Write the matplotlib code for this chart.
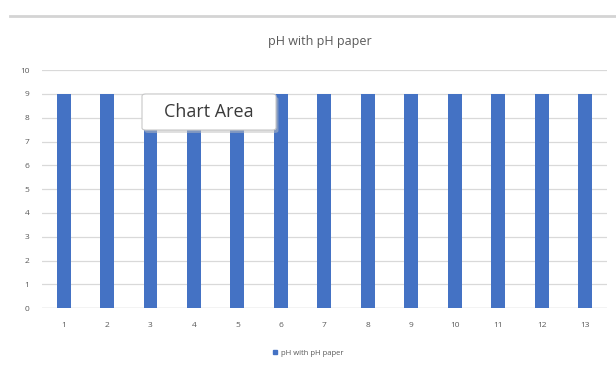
import matplotlib.pyplot as plt
from matplotlib.patches import FancyBboxPatch
from matplotlib.lines import Line2D

plt.rcParams['font.family'] = ['Open Sans', 'DejaVu Sans']

samples = [str(i) for i in range(1, 14)]
ph_values = [9, 9, 9, 9, 9, 9, 9, 9, 9, 9, 9, 9, 9]
series_name = "pH with pH paper"

bar_color = "#4472C4"
grid_color = "#d9d9d9"
text_color = "#595959"

fig = plt.figure(figsize=(6.16, 3.69), dpi=100)
ax = fig.add_axes([0.068, 0.165, 0.917, 0.645])

xs = range(1, len(samples) + 1)
ax.bar(xs, ph_values, width=0.32, color=bar_color, label=series_name, zorder=3)

ax.set_xlim(0.5, len(samples) + 0.5)
ax.set_ylim(0, 10)
ax.set_yticks(range(0, 11))
ax.set_xticks(list(xs))
ax.set_xticklabels(samples)
ax.grid(True, axis="y", color=grid_color, linewidth=0.9, zorder=0)
for s in ax.spines.values():
    s.set_visible(False)
ax.axhline(0, color=grid_color, linewidth=1.0, zorder=2)
ax.tick_params(axis="both", length=0, labelsize=6, colors=text_color)
ax.tick_params(axis="y", pad=9)
ax.tick_params(axis="x", pad=10)

fig.text(0.52, 0.888, series_name, ha="center", va="center", fontsize=9, color=text_color)

# grey rule across the top
fig.add_artist(Line2D([0.016, 1.0], [0.957, 0.957], transform=fig.transFigure,
                      color="#d4d4d4", linewidth=2))

# legend at the bottom
handle = plt.Rectangle((0, 0), 1, 1, color=bar_color)
fig.legend([handle], [series_name], loc="center", bbox_to_anchor=(0.5, 0.043),
           frameon=False, fontsize=5.5, labelcolor=text_color,
           handlelength=0.6, handleheight=0.6, handletextpad=0.5)

# hover tooltip
x0, y0, w, h = 142 / 616, 1 - 130 / 369, 134 / 616, 36 / 369
fig.add_artist(FancyBboxPatch((x0 + 0.004, y0 - 0.008), w, h, transform=fig.transFigure,
                              boxstyle="round,pad=0,rounding_size=0.006",
                              facecolor="#bfbfbf", edgecolor="none", alpha=0.5, zorder=9))
fig.add_artist(FancyBboxPatch((x0, y0), w, h, transform=fig.transFigure,
                              boxstyle="round,pad=0,rounding_size=0.006",
                              facecolor="white", edgecolor="#c8c8c8", linewidth=0.8, zorder=10))
fig.text(x0 + w / 2, y0 + h / 2, "Chart Area", ha="center", va="center",
         fontsize=13, color="#3a3a3a", zorder=11)

fig.savefig("out.png", dpi=100)
